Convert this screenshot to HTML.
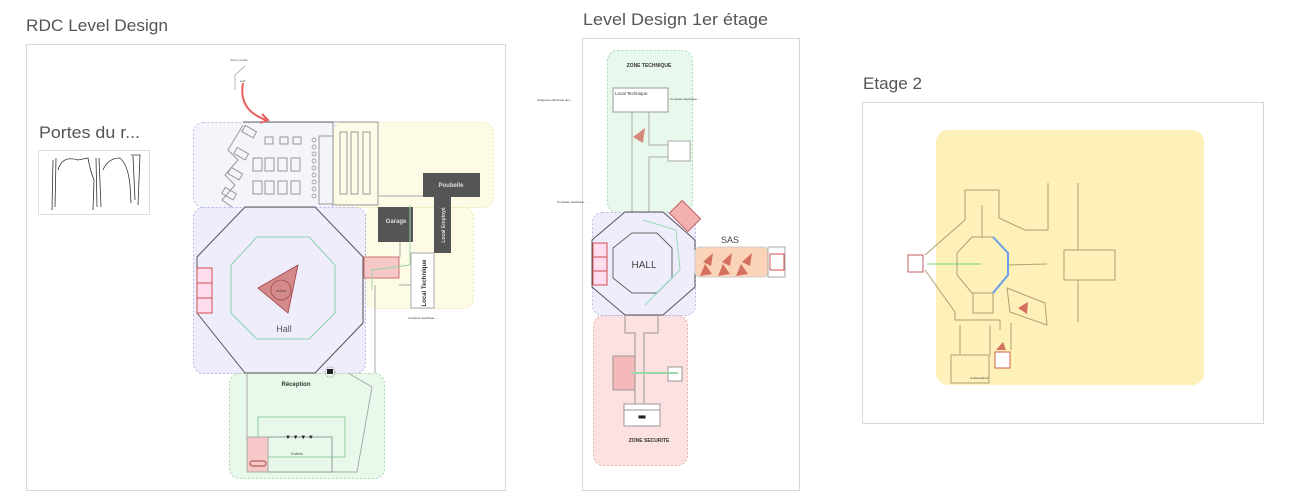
<!DOCTYPE html>
<html><head><meta charset="utf-8"><style>
html,body{margin:0;padding:0;background:#fff;width:1305px;height:501px;overflow:hidden}
svg{display:block}
text{font-family:"Liberation Sans","DejaVu Sans",sans-serif}
</style></head><body>
<svg width="1305" height="501" viewBox="0 0 1305 501" xmlns="http://www.w3.org/2000/svg">
<!-- Titles -->
<text x="26" y="31" font-size="17" fill="#555" textLength="142" lengthAdjust="spacingAndGlyphs">RDC Level Design</text>
<text x="583" y="25" font-size="17" fill="#555" textLength="185" lengthAdjust="spacingAndGlyphs">Level Design 1er étage</text>
<text x="863" y="89" font-size="17" fill="#555" textLength="59" lengthAdjust="spacingAndGlyphs">Etage 2</text>
<!-- Frames -->
<rect x="26.5" y="44.5" width="479" height="446" fill="#fff" stroke="#d8d8d8"/>
<rect x="582.5" y="38.5" width="217" height="452" fill="#fff" stroke="#d8d8d8"/>
<rect x="862.5" y="102.5" width="401" height="321" fill="#fff" stroke="#d8d8d8"/>

<!-- Portes -->
<text x="39" y="138" font-size="17" fill="#555" textLength="101" lengthAdjust="spacingAndGlyphs">Portes du r...</text>
<rect x="38.5" y="150.5" width="111" height="64" fill="#fff" stroke="#ddd"/>
<g fill="none" stroke="#333" stroke-width="0.8">
<path d="M53 160 L52 210 M56 158 L55 207 M58 170 Q62 155 78 160 L88 158 Q90 170 94 180 L93 210 M96 158 L97 207 M99 158 L101 207"/>
<path d="M103 170 Q108 158 120 158 Q128 165 130 185 L131 203 M131 155 L140 155 L138 205 M133 156 L135 200"/>
</g>

<!-- RDC zones -->
<rect x="193.5" y="122.5" width="145" height="85" rx="10" fill="#f4f4fb" stroke="#b8b8e8" stroke-dasharray="2 2"/>
<rect x="333.5" y="122.5" width="160" height="85" rx="10" fill="#fdfbe6" stroke="#eee6b0" stroke-dasharray="2 2"/>
<rect x="365.5" y="207.5" width="108" height="101" rx="10" fill="#fdfbe6" stroke="#eee6b0" stroke-dasharray="2 2"/>
<rect x="193.5" y="207.5" width="172" height="166" rx="10" fill="#efedfc" stroke="#b8b8e8" stroke-dasharray="2 2"/>
<rect x="229.5" y="373.5" width="155" height="105" rx="10" fill="#e8f8ea" stroke="#a8dcb0" stroke-dasharray="2 2"/>

<!-- top-left classroom -->
<g fill="none" stroke="#999" stroke-width="1">
<rect x="265" y="137" width="8" height="7"/><rect x="280" y="137" width="8" height="7"/><rect x="293" y="137" width="8" height="7"/>
<rect x="253" y="158" width="9" height="13"/><rect x="265" y="158" width="9" height="13"/><rect x="278" y="158" width="9" height="13"/><rect x="291" y="158" width="9" height="13"/>
<rect x="253" y="181" width="9" height="13"/><rect x="265" y="181" width="9" height="13"/><rect x="278" y="181" width="9" height="13"/><rect x="291" y="181" width="9" height="13"/>
<rect x="319" y="136" width="14" height="68"/>
<path d="M243 125 L228 150 L238 160 L225 175 L235 185 L222 200 L232 207"/>
<rect x="243" y="128" width="13" height="7" transform="rotate(30 249 131)"/>
<rect x="235" y="150" width="13" height="7" transform="rotate(30 241 153)"/>
<rect x="229" y="170" width="13" height="7" transform="rotate(30 235 173)"/>
<rect x="223" y="190" width="13" height="7" transform="rotate(30 229 193)"/>
<rect x="333" y="122" width="45" height="83" stroke="#999"/>
<rect x="340" y="132" width="7" height="62"/><rect x="351" y="132" width="7" height="62"/><rect x="363" y="132" width="7" height="62"/>
</g>
<g fill="none" stroke="#888" stroke-width="0.7">
<circle cx="314" cy="140" r="2"/><circle cx="314" cy="147" r="2"/><circle cx="314" cy="154" r="2"/><circle cx="314" cy="161" r="2"/><circle cx="314" cy="168" r="2"/><circle cx="314" cy="175" r="2"/><circle cx="314" cy="182" r="2"/><circle cx="314" cy="189" r="2"/><circle cx="314" cy="196" r="2"/>
</g>
<line x1="243" y1="122" x2="333" y2="122" stroke="#666"/>
<!-- red arrow -->
<path d="M243 83 Q238 110 266 120" fill="none" stroke="#e86060" stroke-width="2"/>
<path d="M262 114 L268 120 L260 123" fill="none" stroke="#e86060" stroke-width="2"/>
<path d="M235 75 L245 66 M235 75 L235 90" fill="none" stroke="#999" stroke-width="0.7"/>
<text x="230" y="61" font-size="3" fill="#555">Some private</text>
<text x="240" y="82" font-size="3" fill="#555">wall</text>

<!-- hall octagon -->
<polygon points="245,207 197,257 197,313 245,373 315,373 363,323 363,257 315,207" fill="none" stroke="#555" stroke-width="1"/>
<polygon points="257,237 309,237 335,265 335,313 309,339 257,339 231,313 231,265" fill="none" stroke="#8cd0b0" stroke-width="1"/>
<polygon points="258,288 298,265 288,313" fill="#d48a8a" stroke="#a04040" stroke-width="0.8"/>
<circle cx="281" cy="290" r="10" fill="none" stroke="#a04040" stroke-width="0.7"/>
<text x="281" y="292" font-size="3" text-anchor="middle" fill="#333">DIAGR</text>
<text x="284" y="332" font-size="9" text-anchor="middle" fill="#555">Hall</text>
<g fill="#fde" stroke="#d05050"><rect x="197" y="268" width="15" height="15"/><rect x="197" y="283" width="15" height="15"/><rect x="197" y="298" width="15" height="15"/></g>
<!-- right yellow items -->
<rect x="423" y="173" width="57" height="24" fill="#555"/>
<text x="451" y="187" font-size="6" font-weight="bold" text-anchor="middle" fill="#ddd">Poubelle</text>
<rect x="434" y="197" width="17" height="56" fill="#555"/>
<text x="445" y="225" font-size="5" font-weight="bold" fill="#ddd" text-anchor="middle" transform="rotate(-90 445 225)">Local Employé</text>
<rect x="378" y="207" width="35" height="35" fill="#555"/>
<text x="396" y="223" font-size="6" font-weight="bold" text-anchor="middle" fill="#ddd">Garage</text>
<rect x="411" y="253" width="23" height="55" fill="#fff" stroke="#aaa"/>
<text x="426" y="283" font-size="6" font-weight="bold" fill="#333" text-anchor="middle" transform="rotate(-90 426 283)">Local Technique</text>
<rect x="364" y="257" width="35" height="21" fill="#f6c8c8" stroke="#d07070"/>
<path d="M378 200 L378 196 L423 196 M400 242 L400 257 M399 285 L411 285 M375 285 L375 373" fill="none" stroke="#aaa"/>
<path d="M372 290 L372 270 L410 265 L410 205" fill="none" stroke="#9ad8a8"/>
<text x="408" y="319" font-size="3" fill="#333">compteur électrique ...</text>
<!-- reception -->
<polyline points="247,373 247,472 357,472 372,387 348,373" fill="none" stroke="#aaa"/>
<rect x="258" y="417" width="87" height="40" fill="none" stroke="#8cd0a0"/>
<rect x="247" y="437" width="85" height="35" fill="none" stroke="#999"/>
<rect x="247" y="437" width="21" height="35" fill="#f6c8c8" stroke="#aaa"/>
<rect x="250" y="461" width="16" height="5" rx="2.5" fill="none" stroke="#a04040"/>
<text x="296" y="386" font-size="6" font-weight="bold" text-anchor="middle" fill="#333">Réception</text>
<text x="297" y="455" font-size="4" fill="#444" text-anchor="middle">Entrée</text>
<text x="285" y="439" font-size="6" fill="#222">▼ ▼ ▼ ▼</text>
<circle cx="330" cy="372" r="5" fill="none" stroke="#999" stroke-dasharray="1 1"/>
<rect x="327" y="369" width="6" height="5" fill="#222"/>

<!-- 1er etage -->
<rect x="607.5" y="50.5" width="85" height="162" rx="10" fill="#e9f8ec" stroke="#a8dcb0" stroke-dasharray="2 2"/>
<rect x="593.5" y="315.5" width="94" height="150" rx="10" fill="#fde0e0" stroke="#eab0b0" stroke-dasharray="2 2"/>
<rect x="592.5" y="212.5" width="103" height="103" rx="10" fill="#efedfc" stroke="#b8b8e8" stroke-dasharray="2 2"/>
<text x="649" y="67" font-size="5" font-weight="bold" text-anchor="middle" fill="#333">ZONE TECHNIQUE</text>
<rect x="613" y="88" width="55" height="24" fill="#fff" stroke="#999"/>
<text x="615" y="95" font-size="4.5" fill="#333">Local Technique</text>
<path d="M632 112 L632 212 M649 112 L649 145 L668 145 M668 157 L649 157 L649 212" fill="none" stroke="#aaa"/>
<rect x="668" y="141" width="22" height="20" fill="#fff" stroke="#aaa"/>
<polygon points="633,137 645,128 643,143" fill="#d48a7a"/>
<text x="537" y="101" font-size="3" fill="#333">Assigneur électrique des ...</text>
<text x="670" y="100" font-size="3" fill="#333">Compteur électrique ...</text>
<text x="557" y="203" font-size="3" fill="#333">Compteur électrique ...</text>
<polygon points="625,212 663,212 695,240 695,287 663,315 625,315 592,287 592,240" fill="none" stroke="#555"/>
<polygon points="632,233 657,233 672,248 672,278 657,293 632,293 613,278 613,248" fill="none" stroke="#666"/>
<path d="M643 220 L676 230 L680 270 L645 305" fill="none" stroke="#9ad8b8"/>
<text x="644" y="268" font-size="10" text-anchor="middle" fill="#444">HALL</text>
<g fill="#fde" stroke="#d05050"><rect x="593" y="243" width="14" height="14"/><rect x="593" y="257" width="14" height="14"/><rect x="593" y="271" width="14" height="14"/></g>
<rect x="672" y="207" width="26" height="18" fill="#f4b0b0" stroke="#c06060" transform="rotate(45 685 216)"/>
<rect x="695" y="247" width="73" height="30" rx="5" fill="#fbd3b8" stroke="#ccc"/>
<rect x="768" y="247" width="17" height="30" fill="#fff" stroke="#aaa"/>
<rect x="770" y="254" width="14" height="16" fill="none" stroke="#d05050"/>
<text x="730" y="243" font-size="9" text-anchor="middle" fill="#444">SAS</text>
<g fill="#d47060"><polygon points="703,262 713,253 711,266"/><polygon points="722,262 732,253 730,266"/><polygon points="742,262 752,253 750,266"/><polygon points="700,276 705,264 712,274"/><polygon points="718,276 723,264 730,274"/><polygon points="736,276 741,264 748,274"/></g>
<path d="M625 315 L625 333 L635 333 L635 407 L644 407 L644 333 L658 333 L658 315" fill="none" stroke="#999"/>
<rect x="613" y="356" width="22" height="34" fill="#f6b8b8" stroke="#999"/>
<rect x="668" y="367" width="14" height="14" fill="#fff" stroke="#999"/>
<line x1="631" y1="373" x2="678" y2="373" stroke="#9ad8a8" stroke-width="2"/>
<rect x="624" y="404" width="36" height="22" fill="#fff" stroke="#999"/>
<line x1="624" y1="410" x2="660" y2="410" stroke="#999"/>
<text x="642" y="420" font-size="5" text-anchor="middle" fill="#222">▀▀</text>
<text x="649" y="442" font-size="5" font-weight="bold" text-anchor="middle" fill="#333">ZONE SECURITE</text>

<!-- Etage 2 -->
<rect x="936" y="130" width="268" height="255" rx="12" fill="#fdf0b8"/>
<g fill="none" stroke="#b0a070" stroke-width="1">
<polygon points="972,237 993,237 1008,253 1008,275 993,293 972,293 957,275 957,253"/>
<path d="M965 220 L965 190 L999 190 L999 218 L1025 230 L1048 230 L1048 183"/>
<path d="M982 205 L982 237"/>
<path d="M1078 183 L1078 250 M1078 280 L1078 322"/>
<rect x="1064" y="250" width="51" height="30"/>
<path d="M1008 265 L1047 264"/>
<path d="M925 255 L965 220 M925 270 L955 312 L955 320 L1000 320 L1000 330 M960 325 L960 355 M990 325 L990 355"/>
<rect x="973" y="293" width="20" height="20"/>
<rect x="951" y="355" width="38" height="28"/>
<path d="M1007 288 L1045 303 L1047 325 L1010 312 Z"/>
<path d="M1011 323 L1011 350"/>
</g>
<path d="M993 237 L1008 253 L1008 275 L993 293" fill="none" stroke="#6a9ee8" stroke-width="2"/>
<line x1="927" y1="264" x2="981" y2="264" stroke="#7cd07c"/>
<rect x="908" y="255" width="15" height="17" fill="#fff" stroke="#c06060"/>
<rect x="995" y="352" width="15" height="16" fill="#fff" stroke="#d06040"/>
<polygon points="1018,308 1028,302 1027,314" fill="#d47060"/>
<polygon points="996,350 1003,342 1006,350" fill="#d47060"/>
<text x="970" y="379" font-size="3" fill="#444">Ambassadeur</text>
</svg>
</body></html>
